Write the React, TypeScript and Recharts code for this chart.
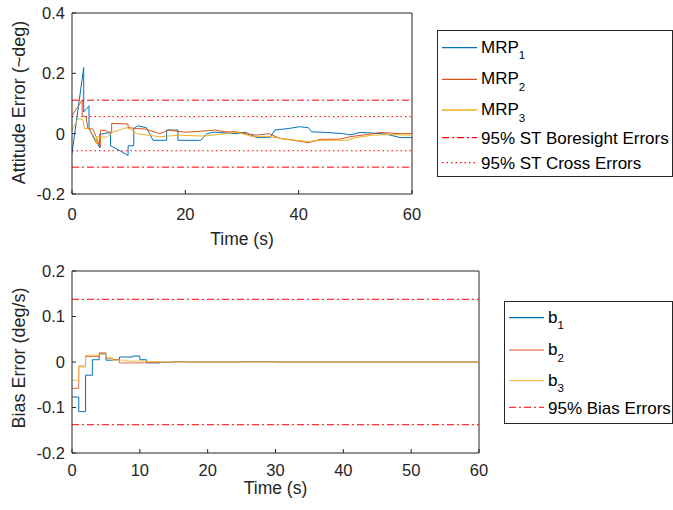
import { LineChart, Line, XAxis, YAxis, ReferenceLine } from "recharts";

// attitude error (deg), MRP components
const mrp1 = [
  { t: 0, v: -0.065 }, { t: 2.07, v: 0.219 }, { t: 2.07, v: 0.072 }, { t: 3.0, v: 0.092 }, { t: 3.0, v: 0.017 },
  { t: 4.9, v: -0.047 }, { t: 4.9, v: -0.002 }, { t: 6.8, v: 0.004 }, { t: 6.8, v: -0.04 }, { t: 9.9, v: -0.072 },
  { t: 9.9, v: -0.04 }, { t: 10.9, v: -0.04 }, { t: 10.9, v: 0.017 }, { t: 11.6, v: 0.026 }, { t: 13.1, v: 0.02 },
  { t: 13.6, v: 0.004 }, { t: 14.3, v: -0.022 }, { t: 16.7, v: -0.022 }, { t: 16.7, v: 0.012 }, { t: 18.7, v: 0.012 },
  { t: 18.7, v: -0.022 }, { t: 22.7, v: -0.022 }, { t: 23.8, v: 0.0 }, { t: 25, v: 0.005 }, { t: 29, v: 0.0 },
  { t: 30.5, v: 0.005 }, { t: 32.6, v: -0.013 }, { t: 35, v: -0.012 }, { t: 35.8, v: 0.012 }, { t: 38.2, v: 0.017 },
  { t: 40.2, v: 0.023 }, { t: 41.7, v: 0.02 }, { t: 42.3, v: 0.006 }, { t: 44.9, v: 0.004 }, { t: 47.9, v: 0.0 },
  { t: 49.1, v: -0.004 }, { t: 50.9, v: 0.004 }, { t: 53, v: 0.002 }, { t: 55.6, v: -0.002 }, { t: 57.9, v: -0.013 },
  { t: 60, v: -0.013 },
];
const mrp2 = [
  { t: 0, v: 0.06 }, { t: 1.8, v: 0.111 }, { t: 1.8, v: 0.06 }, { t: 2.5, v: 0.055 }, { t: 2.8, v: 0.017 },
  { t: 3.7, v: 0.015 }, { t: 5.0, v: -0.044 }, { t: 5.0, v: 0.011 }, { t: 6.0, v: 0.011 }, { t: 6.2, v: 0.005 },
  { t: 7.0, v: 0.005 }, { t: 7.0, v: 0.034 }, { t: 9.9, v: 0.032 }, { t: 9.9, v: 0.02 }, { t: 11.4, v: 0.017 },
  { t: 13, v: 0.015 }, { t: 15.5, v: 0.0 }, { t: 17, v: 0.012 }, { t: 19.9, v: 0.005 }, { t: 22, v: 0.007 },
  { t: 25.3, v: 0.012 }, { t: 27, v: 0.006 }, { t: 29, v: 0.006 }, { t: 30.7, v: 0.0 }, { t: 32.5, v: -0.005 },
  { t: 34.8, v: 0.0 }, { t: 36.7, v: -0.016 }, { t: 39, v: -0.021 }, { t: 41.7, v: -0.03 }, { t: 43.8, v: -0.019 },
  { t: 47.3, v: -0.018 }, { t: 49.1, v: -0.01 }, { t: 52, v: -0.003 }, { t: 54.4, v: 0.004 }, { t: 57.9, v: 0.0 },
  { t: 60, v: 0.0 },
];
const mrp3 = [
  { t: 0, v: 0.012 }, { t: 1.07, v: 0.05 }, { t: 1.9, v: 0.047 }, { t: 2.2, v: 0.017 }, { t: 2.9, v: 0.017 },
  { t: 4.3, v: -0.033 }, { t: 4.3, v: -0.01 }, { t: 6.1, v: -0.012 }, { t: 7.2, v: 0.005 }, { t: 9.6, v: 0.02 },
  { t: 10.5, v: 0.012 }, { t: 11.4, v: 0.0 }, { t: 15.5, v: -0.01 }, { t: 19, v: -0.005 }, { t: 23.2, v: -0.008 },
  { t: 27.2, v: 0.0 }, { t: 29, v: 0.005 }, { t: 31.9, v: -0.01 }, { t: 34.8, v: -0.01 }, { t: 38.3, v: -0.02 },
  { t: 41.7, v: -0.026 }, { t: 43.8, v: -0.022 }, { t: 48.5, v: -0.022 }, { t: 50.3, v: -0.012 }, { t: 53.2, v: -0.005 },
  { t: 56.2, v: -0.003 }, { t: 60, v: -0.005 },
];

// gyro bias error (deg/s)
const b1 = [
  { t: 0, v: -0.077 }, { t: 1, v: -0.109 }, { t: 2, v: -0.029 }, { t: 3, v: 0.005 }, { t: 4, v: 0.018 },
  { t: 5, v: 0.004 }, { t: 6, v: 0.005 }, { t: 7, v: 0.011 }, { t: 9, v: 0.013 }, { t: 10, v: 0.005 },
  { t: 11, v: -0.002 }, { t: 13, v: -0.001 }, { t: 15, v: 0.001 }, { t: 17, v: 0.0 }, { t: 25, v: 0.001 },
  { t: 30, v: 0.0 }, { t: 60, v: 0.0 },
];
const b2 = [
  { t: 0, v: -0.058 }, { t: 1, v: -0.009 }, { t: 2, v: 0.012 }, { t: 4, v: 0.02 }, { t: 5, v: 0.008 },
  { t: 6, v: 0.005 }, { t: 7, v: -0.002 }, { t: 11, v: -0.001 }, { t: 13, v: 0.0 }, { t: 60, v: 0.0 },
];
const b3 = [
  { t: 0, v: -0.04 }, { t: 1, v: -0.011 }, { t: 2, v: 0.015 }, { t: 4, v: 0.017 }, { t: 5, v: 0.009 },
  { t: 6, v: 0.004 }, { t: 8, v: 0.002 }, { t: 11, v: 0.001 }, { t: 13, v: 0.0 }, { t: 60, v: 0.0 },
];

const boresightBound = 0.111;
const crossBound = 0.0566;
const biasBound = 0.1375;

const attXTicks = [0, 20, 40, 60];
const attYTicks = [-0.2, 0, 0.2, 0.4];
const biasXTicks = [0, 10, 20, 30, 40, 50, 60];
const biasYTicks = [-0.2, -0.1, 0, 0.1, 0.2];

const font = "'Liberation Sans', Arial, Helvetica, sans-serif";
const ink = "#262626";
const blue = "#0072BD";
const red = "#D95319";
const yellow = "#EDB120";
const boundRed = "#FF0000";
const biasRed = "#FF3333";
const dashDot = "7 3 2 3";
const dotted = "1.5 3";
const tick = { fontSize: 16.5, fill: ink, fontFamily: font };

const yTitle = (text: string, dy: number) => ({ viewBox }: any) => (
  <text transform={`translate(${viewBox.x + 19}, ${viewBox.y + viewBox.height / 2 + dy}) rotate(-90)`}
    textAnchor="middle" dominantBaseline="central" fontSize={18} fill={ink} fontFamily={font}>{text}</text>
);
const xTitle = (text: string, dy: number) => ({ viewBox }: any) => (
  <text x={viewBox.x + viewBox.width / 2} y={viewBox.y + dy} textAnchor="middle" dominantBaseline="central"
    fontSize={17.5} fill={ink} fontFamily={font}>{text}</text>
);

// mirrored top / right axes give the closed MATLAB box with inward ticks
const frame = (xTicks: number[], yTicks: number[], yDomain: [number, number]) => [
  <XAxis key="xt" xAxisId="top" orientation="top" type="number" domain={[0, 60]} ticks={xTicks} height={0}
    tick={false} tickSize={-4} stroke={ink} allowDataOverflow />,
  <YAxis key="yr" yAxisId="right" orientation="right" type="number" domain={yDomain} ticks={yTicks} width={0}
    tick={false} tickSize={-4} stroke={ink} allowDataOverflow />,
  <ReferenceLine key="bt" y={yDomain[1]} stroke={ink} strokeWidth={1} />,
  <ReferenceLine key="br" x={60} stroke={ink} strokeWidth={1} />,
];

const attLegend = [
  { name: "MRP", sub: "1", color: blue, dash: undefined },
  { name: "MRP", sub: "2", color: red, dash: undefined },
  { name: "MRP", sub: "3", color: yellow, dash: undefined },
  { name: "95% ST Boresight Errors", sub: "", color: boundRed, dash: dashDot },
  { name: "95% ST Cross Errors", sub: "", color: boundRed, dash: dotted },
];
const biasLegend = [
  { name: "b", sub: "1", color: blue, dash: undefined },
  { name: "b", sub: "2", color: "#E8896A", dash: undefined },
  { name: "b", sub: "3", color: "#F2C45E", dash: undefined },
  { name: "95% Bias Errors", sub: "", color: biasRed, dash: dashDot },
];

const LegendBox = ({ x, y, w, h, items, rows, lineX, textX }: any) => (
  <g fontFamily={font} fill="#000">
    <rect x={x + 0.5} y={y + 0.5} width={w} height={h} fill="#fff" stroke={ink} strokeWidth={1} />
    {items.map((it: any, i: number) => (
      <g key={i}>
        <line x1={lineX} x2={lineX + 35} y1={rows[i]} y2={rows[i]}
          stroke={it.color} strokeWidth={1.3} strokeDasharray={it.dash} />
        <text x={textX} y={rows[i] + (it.sub ? 5 : 6.3)} fontSize={17}>
          {it.name}
          {it.sub && <tspan fontSize={11.5} dy={6.6}>{it.sub}</tspan>}
        </text>
      </g>
    ))}
  </g>
);

export default function App() {
  return (
    <div style={{ position: "absolute", left: 0, top: 0, width: 673, height: 510, background: "#fff" }}>
      <div style={{ position: "absolute", left: 0, top: 0 }}>
        <LineChart width={673} height={255} margin={{ top: 13, right: 261, bottom: 21, left: 0 }}>
          <XAxis dataKey="t" type="number" domain={[0, 60]} ticks={attXTicks} height={40} stroke={ink}
            tick={tick} tickSize={-4} tickMargin={18} label={xTitle("Time (s)", 45)} allowDataOverflow />
          <YAxis type="number" domain={[-0.2, 0.4]} ticks={attYTicks} width={72} stroke={ink}
            tick={tick} tickSize={-4} tickMargin={11} label={yTitle("Attitude Error (~deg)", -1)} allowDataOverflow />
          {frame(attXTicks, attYTicks, [-0.2, 0.4])}
          <Line data={mrp1} dataKey="v" stroke={blue} strokeWidth={1} dot={false} isAnimationActive={false} />
          <Line data={mrp2} dataKey="v" stroke={red} strokeWidth={1} dot={false} isAnimationActive={false} />
          <Line data={mrp3} dataKey="v" stroke={yellow} strokeWidth={1} dot={false} isAnimationActive={false} />
          <ReferenceLine y={boresightBound} stroke={boundRed} strokeDasharray={dashDot} />
          <ReferenceLine y={-boresightBound} stroke={boundRed} strokeDasharray={dashDot} />
          <ReferenceLine y={crossBound} stroke={boundRed} strokeDasharray={dotted} />
          <ReferenceLine y={-crossBound} stroke={boundRed} strokeDasharray={dotted} />
        </LineChart>
      </div>
      <div style={{ position: "absolute", left: 0, top: 255 }}>
        <LineChart width={673} height={255} margin={{ top: 16, right: 194, bottom: 17, left: 0 }}>
          <XAxis dataKey="t" type="number" domain={[0, 60]} ticks={biasXTicks} height={40} stroke={ink}
            tick={tick} tickSize={-4} tickMargin={15} label={xTitle("Time (s)", 35)} allowDataOverflow />
          <YAxis type="number" domain={[-0.2, 0.2]} ticks={biasYTicks} width={72} stroke={ink}
            tick={tick} tickSize={-4} tickMargin={11} label={yTitle("Bias Error (deg/s)", -4)} allowDataOverflow />
          {frame(biasXTicks, biasYTicks, [-0.2, 0.2])}
          <Line data={b1} dataKey="v" type="stepAfter" stroke={blue} strokeWidth={1} dot={false} isAnimationActive={false} />
          <Line data={b2} dataKey="v" type="stepAfter" stroke="#E0704A" strokeWidth={1} dot={false} isAnimationActive={false} />
          <Line data={b3} dataKey="v" type="stepAfter" stroke="#F0BC4A" strokeWidth={1} dot={false} isAnimationActive={false} />
          <ReferenceLine y={biasBound} stroke={biasRed} strokeWidth={1.2} strokeDasharray={dashDot} />
          <ReferenceLine y={-biasBound} stroke={biasRed} strokeWidth={1.2} strokeDasharray={dashDot} />
        </LineChart>
      </div>
      <svg width={673} height={510} style={{ position: "absolute", left: 0, top: 0, pointerEvents: "none" }}>
        <LegendBox x={437} y={30} w={235} h={146} items={attLegend} rows={[47.7, 79.3, 110, 137.7, 162.7]} lineX={442} textX={481} />
        <LegendBox x={504} y={301} w={168} h={122} items={biasLegend} rows={[317.7, 350, 380.7, 407.3]} lineX={509} textX={548} />
      </svg>
    </div>
  );
}
